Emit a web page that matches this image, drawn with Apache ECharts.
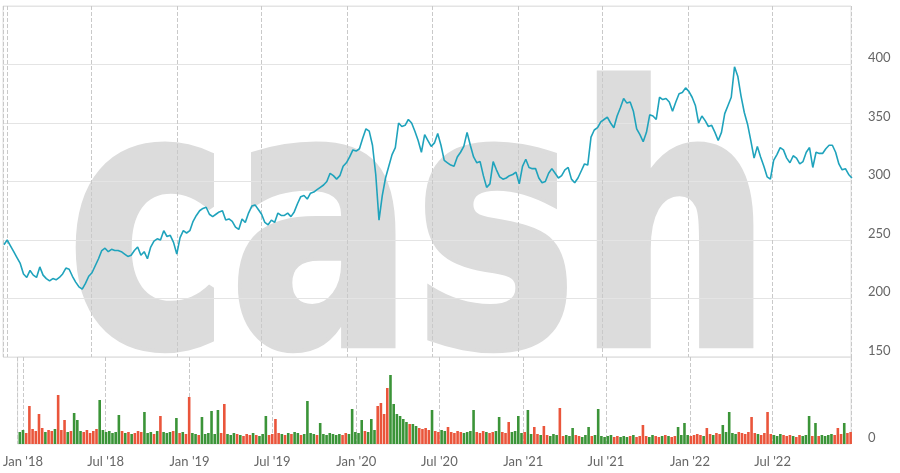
<!DOCTYPE html>
<html>
<head>
<meta charset="utf-8">
<script src="https://cdn.jsdelivr.net/npm/echarts@6/dist/echarts.min.js"></script>
<style>html,body{margin:0;padding:0;background:#fff}#c{width:900px;height:473px}</style>
</head>
<body>
<div id="c"></div>
<script>
// Weekly observations, first week starting 2017-12-25
const startDate = '2017-12-25';
const axisMin = '2017-12-23';
const axisMax = '2022-12-17';
const priceTicks = [150, 200, 250, 300, 350, 400];
const xTickLabels = ["Jan '18","Jul '18","Jan '19","Jul '19","Jan '20","Jul '20","Jan '21","Jul '21","Jan '22","Jul '22"];

const prices = [
246,250,245,240,235,230,221,218,224,220,
218,227,220,217,215,217,216,218,221,226,
225,219,214,210,208,213,219,222,228,234,
241,243,240,242,241,241,240,238,236,237,
241,244,237,240,234,244,249,251,250,258,
253,254,248,238,252,258,256,258,266,271,
275,277,278,272,270,272,274,275,267,268,
266,261,259,268,265,273,279,280,276,272,
265,263,267,265,273,271,271,273,270,274,
281,287,288,285,290,291,293,295,297,300,
307,305,302,305,313,316,321,327,326,328,
337,345,343,331,306,267,288,303,313,323,
329,350,347,348,353,350,343,335,325,340,
335,330,333,341,331,318,316,314,313,321,
325,330,342,331,321,316,317,305,295,298,
317,310,304,302,303,305,306,308,298,313,
319,312,311,311,303,299,300,307,311,307,
303,305,310,312,302,299,303,309,315,314,
338,344,346,351,353,355,350,346,356,363,
371,367,368,360,345,340,334,342,357,356,
353,372,370,371,368,360,368,375,376,380,
377,372,365,350,356,352,347,348,342,335,
342,358,365,372,398,390,373,359,349,335,
320,330,321,313,304,302,318,323,329,327,
320,316,322,320,315,317,325,329,312,325,
324,324,328,331,331,325,315,310,311,306,
303
];

const volumes = [
12,14,11,38,15,13,30,16,12,14,
13,15,49,14,24,12,13,31,24,13,
12,14,11,13,15,44,14,12,13,11,
12,29,13,11,12,10,11,13,12,32,
11,12,10,13,28,12,11,12,13,26,
11,12,10,47,11,10,9,27,10,11,
33,10,34,11,40,10,9,11,10,9,
8,10,9,11,9,8,10,28,9,10,
25,11,10,9,11,10,12,11,9,10,
43,11,10,9,21,10,9,11,10,9,
10,9,11,10,35,12,11,24,13,12,
25,14,38,41,30,56,69,40,30,28,
25,22,20,20,18,16,15,16,14,34,
13,12,14,13,17,12,11,13,12,11,
12,13,34,12,11,13,12,11,12,13,
27,12,11,22,12,13,28,11,12,34,
10,17,10,9,18,9,8,10,9,36,
8,9,8,16,9,8,7,9,17,8,
9,35,8,7,8,9,7,8,7,8,
7,8,9,7,8,19,8,7,9,8,
7,8,9,8,7,8,17,9,21,9,
8,9,10,9,8,16,10,9,11,10,
19,12,32,11,10,12,11,10,12,27,
11,10,9,11,32,10,9,8,10,9,
8,9,8,7,9,8,9,28,8,21,
8,9,8,9,10,9,16,10,21,11,
12
];

const UP = '#3b9438', DOWN = '#ea553b', LINE = '#1fa3bc';
const MONTHS = ['Jan','Feb','Mar','Apr','May','Jun','Jul','Aug','Sep','Oct','Nov','Dec'];
const DAY = 86400000;
const t0 = new Date(startDate + 'T00:00:00').getTime();
const dates = prices.map((_, i) => t0 + i * 7 * DAY);

const lineData = prices.map((p, i) => [dates[i], p]);
const barData = volumes.map((v, i) => ({
  value: [dates[i], v],
  itemStyle: { color: (i > 0 && prices[i] < prices[i - 1]) ? DOWN : UP }
}));

const chart = echarts.init(document.getElementById('c'), null, { renderer: 'canvas' });
const labelFont = { color: '#666', fontSize: 13, fontFamily: 'Lato, "Noto Sans", sans-serif' };
const xCommon = {
  type: 'time',
  min: axisMin,
  max: axisMax,
  splitNumber: 10,
  minInterval: 170 * DAY,
  maxInterval: 200 * DAY,
  axisLine: { show: false },
  axisTick: { show: false },
  splitLine: { show: true, lineStyle: { type: 'dashed', color: '#c9c9c9', width: 1 } }
};
chart.setOption({
  animation: false,
  backgroundColor: '#fff',
  graphic: [{
    type: 'text',
    z: -10,
    silent: true,
    x: 67,
    y: 252,
    scaleX: 0.771,
    style: {
      text: 'cash',
      font: 'bold 355px "DejaVu Sans"',
      fill: '#dcdcdc',
      stroke: '#dcdcdc',
      lineWidth: 8,
      lineJoin: 'round',
      verticalAlign: 'middle',
      align: 'left'
    }
  }],
  grid: [
    { left: 3, right: 49, top: 6, height: 351, show: true, borderColor: '#e2e2e2', borderWidth: 1 },
    { left: 3, right: 49, top: 357, height: 87, show: true, borderColor: '#e2e2e2', borderWidth: 1 }
  ],
  xAxis: [
    Object.assign({}, xCommon, { gridIndex: 0, axisLabel: { show: false } }),
    Object.assign({}, xCommon, {
      gridIndex: 1,
      axisLabel: Object.assign({}, labelFont, {
        margin: 11,
        formatter: function (val) {
          const d = new Date(val);
          return MONTHS[d.getMonth()] + " '" + String(d.getFullYear()).slice(2);
        }
      })
    })
  ],
  yAxis: [
    {
      gridIndex: 0, type: 'value', position: 'right',
      min: 150, max: 450, interval: 50,
      axisLine: { show: false }, axisTick: { show: false },
      axisLabel: Object.assign({}, labelFont, { margin: 17, verticalAlign: 'bottom', showMaxLabel: false,
        formatter: v => priceTicks.indexOf(v) >= 0 ? String(v) : '' }),
      splitLine: { show: true, lineStyle: { color: '#e4e4e4' } }
    },
    {
      gridIndex: 1, type: 'value', position: 'right',
      min: 0, max: 87, interval: 87,
      axisLine: { show: false }, axisTick: { show: false },
      axisLabel: Object.assign({}, labelFont, { margin: 17, verticalAlign: 'bottom', showMaxLabel: false }),
      splitLine: { show: false }
    }
  ],
  series: [
    {
      type: 'line', xAxisIndex: 0, yAxisIndex: 0, data: lineData,
      showSymbol: false, symbol: 'none',
      lineStyle: { color: LINE, width: 1.6 }, z: 3
    },
    {
      type: 'bar', xAxisIndex: 1, yAxisIndex: 1, data: barData,
      barWidth: 2.6, z: 2
    }
  ]
});
</script>
</body>
</html>
